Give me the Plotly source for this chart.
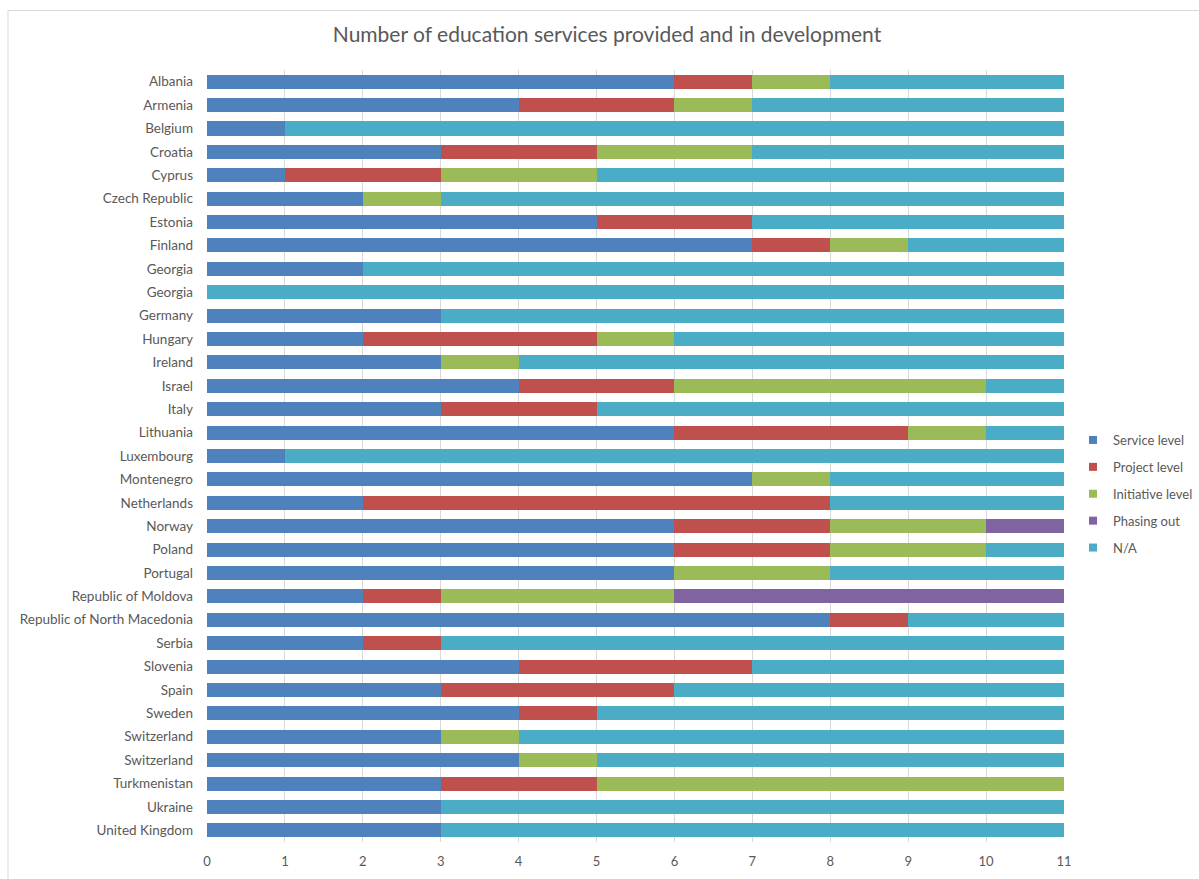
import plotly.graph_objects as go

countries = ["Albania", "Armenia", "Belgium", "Croatia", "Cyprus", "Czech Republic", "Estonia",
             "Finland", "Georgia", "Georgia", "Germany", "Hungary", "Ireland", "Israel", "Italy",
             "Lithuania", "Luxembourg", "Montenegro", "Netherlands", "Norway", "Poland", "Portugal",
             "Republic of Moldova", "Republic of North Macedonia", "Serbia", "Slovenia", "Spain",
             "Sweden", "Switzerland", "Switzerland", "Turkmenistan", "Ukraine", "United Kingdom"]

service_level    = [6, 4, 1, 3, 1, 2, 5, 7, 2, 0, 3, 2, 3, 4, 3, 6, 1, 7, 2, 6, 6, 6, 2, 8, 2, 4, 3, 4, 3, 4, 3, 3, 3]
project_level    = [1, 2, 0, 2, 2, 0, 2, 1, 0, 0, 0, 3, 0, 2, 2, 3, 0, 0, 6, 2, 2, 0, 1, 1, 1, 3, 3, 1, 0, 0, 2, 0, 0]
initiative_level = [1, 1, 0, 2, 2, 1, 0, 1, 0, 0, 0, 1, 1, 4, 0, 1, 0, 1, 0, 2, 2, 2, 3, 0, 0, 0, 0, 0, 1, 1, 6, 0, 0]
phasing_out      = [0, 0, 0, 0, 0, 0, 0, 0, 0, 0, 0, 0, 0, 0, 0, 0, 0, 0, 0, 1, 0, 0, 5, 0, 0, 0, 0, 0, 0, 0, 0, 0, 0]
not_available    = [3, 4, 10, 4, 6, 8, 4, 2, 9, 11, 8, 5, 7, 1, 6, 1, 10, 3, 3, 0, 1, 3, 0, 2, 8, 4, 5, 6, 7, 6, 0, 8, 8]

series = [
    ("Service level", service_level, "#4F81BD"),
    ("Project level", project_level, "#C0504D"),
    ("Initiative level", initiative_level, "#9BBB59"),
    ("Phasing out", phasing_out, "#8064A2"),
    ("N/A", not_available, "#4BACC6"),
]

positions = list(range(len(countries)))

fig = go.Figure()
for name, vals, color in series:
    fig.add_trace(go.Bar(
        y=positions, x=vals, name=name, orientation="h",
        marker=dict(color=color, line=dict(width=0)),
        legendgroup=name, showlegend=False,
    ))
# legend entries with small square swatches
for name, vals, color in series:
    fig.add_trace(go.Scatter(
        x=[None], y=[None], mode="markers", name=name,
        marker=dict(symbol="square", size=8, color=color),
        legendgroup=name, showlegend=True, hoverinfo="skip",
    ))

W, H = 1199, 879
L, R, T, B = 207, 135, 70, 37
pw, ph = W - L - R, H - T - B

def px_to_paper_x(px):
    return (px - L) / pw

def px_to_paper_y(py):
    return 1 - (py - T) / ph

fig.update_layout(
    width=W, height=H,
    barmode="stack", bargap=0.4,
    paper_bgcolor="white", plot_bgcolor="white",
    margin=dict(l=L, r=R, t=T, b=B, autoexpand=False),
    font=dict(family="Lato, 'Open Sans', sans-serif", size=13, color="#595959"),
    title=dict(text="Number of education services provided and in development",
               x=607 / W, xref="container", xanchor="center", y=1 - 35 / H, yanchor="middle",
               font=dict(size=21, color="#595959")),
    legend=dict(x=px_to_paper_x(1073), xanchor="left", y=px_to_paper_y(494), yanchor="middle",
                traceorder="grouped", tracegroupgap=7, font=dict(size=13, color="#595959"),
                itemwidth=30, bgcolor="rgba(0,0,0,0)"),
    xaxis=dict(range=[0, 11], dtick=1, tick0=0, showgrid=True, gridcolor="#D9D9D9", gridwidth=1,
               zeroline=False, showline=False, ticks="", ticklabelstandoff=10,
               tickfont=dict(size=13, color="#595959")),
    yaxis=dict(range=[len(countries) - 0.5, -0.5], tickvals=positions, ticktext=countries,
               showgrid=False, zeroline=False, showline=False, ticks="", ticklabelstandoff=13,
               tickfont=dict(size=13.5, color="#595959")),
    shapes=[
        dict(type="line", xref="paper", yref="paper",
             x0=px_to_paper_x(8), x1=px_to_paper_x(1199), y0=px_to_paper_y(10.5), y1=px_to_paper_y(10.5),
             line=dict(color="#D9D9D9", width=1)),
        dict(type="line", xref="paper", yref="paper",
             x0=px_to_paper_x(8), x1=px_to_paper_x(8), y0=px_to_paper_y(10.5), y1=px_to_paper_y(879),
             line=dict(color="#D9D9D9", width=1)),
    ],
)

fig.write_html("out.html")
